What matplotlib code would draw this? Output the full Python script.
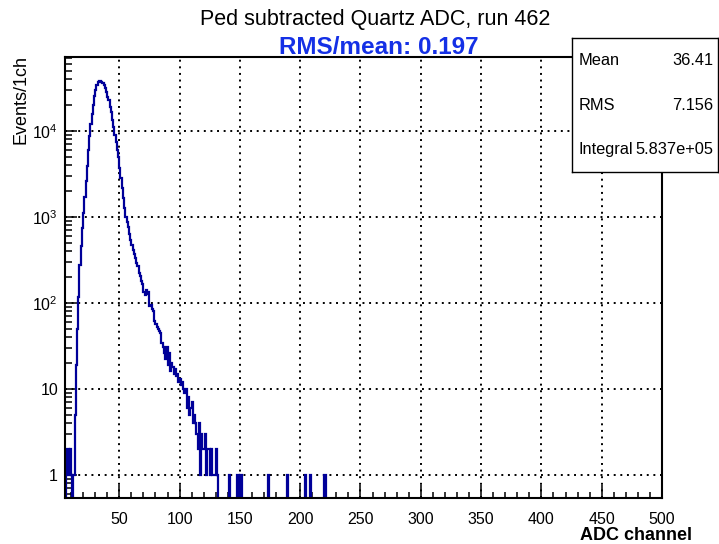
import numpy as np
import matplotlib
matplotlib.use("Agg")
import matplotlib.pyplot as plt
from matplotlib.ticker import FixedLocator, MultipleLocator, LogLocator, NullFormatter

plt.rcParams['font.family'] = ['Liberation Sans', 'DejaVu Sans']
plt.rcParams['mathtext.fontset'] = 'custom'
plt.rcParams['mathtext.rm'] = 'Liberation Sans'
plt.rcParams['mathtext.it'] = 'Liberation Sans:italic'
plt.rcParams['mathtext.bf'] = 'Liberation Sans:bold'

run_number = 462
x_range = (5, 500)
y_range = (0.54, 72000)

# counts in 1-channel bins, first entry is channel 6
first_channel = 6
bin_counts = [
    1, 2, 1, 2, 1, 0, 1, 5, 19, 50,                                  # 6-15
    118, 277, 452, 750, 1100, 1700, 2600, 3900, 6000, 8800,          # 16-25
    12000, 15500, 20000, 25500, 30000, 34000, 36500, 37600, 37900, 37300,  # 26-35
    35600, 33700, 31200, 28000, 25000, 22500, 19000, 16500, 13500, 11000,  # 36-45
    9000, 7500, 6000, 4900, 3700, 2800, 2150, 1650, 1250, 1000,      # 46-55
    880, 760, 640, 540, 470, 415, 370, 330, 290, 265,                # 56-65
    225, 205, 180, 165, 135, 122, 140, 128, 135, 92,                 # 66-75
    95, 85, 80, 62, 57, 52, 50, 47, 45, 34,                          # 76-85
    31, 26, 22, 31, 19, 26, 16, 20, 18, 15,                          # 86-95
    17, 14, 15, 12, 13, 11, 12, 10, 9, 10,                           # 96-105
    6, 8, 5, 6, 7, 4, 5, 4, 3, 2,                                    # 106-115
    4, 1, 3, 2, 2, 3, 1, 2, 2, 1,                                    # 116-125
    2, 1, 1, 1, 2, 1,                                                # 126-131
]
# isolated single-count channels further out
tail_channels = [141, 148, 150, 151, 173, 189, 204, 208, 220]

stat_names = ['Mean', 'RMS', 'Integral']
stat_values = [36.41, 7.156, 5.837e5]

edges = np.arange(x_range[0], x_range[1] + 1)
counts = np.zeros(len(edges) - 1)
start = first_channel - x_range[0]
counts[start:start + len(bin_counts)] = bin_counts
for ch in tail_channels:
    counts[ch - x_range[0]] += 1

W, H = 719, 544
fig = plt.figure(figsize=(W / 100, H / 100), dpi=100)
ax = fig.add_axes([65 / W, 1 - 498 / H, (662 - 65) / W, (498 - 57) / H])

ax.stairs(counts, edges, color='#000099', lw=1.6, baseline=0)

ax.set_yscale('log')
ax.set_xlim(*x_range)
ax.set_ylim(*y_range)

ax.xaxis.set_major_locator(MultipleLocator(50))
ax.xaxis.set_minor_locator(MultipleLocator(10))
ax.yaxis.set_major_locator(FixedLocator([1, 10, 100, 1000, 10000]))
ax.set_yticklabels(['1', '10', '$10^{2}$', '$10^{3}$', '$10^{4}$'])
ax.yaxis.set_minor_locator(LogLocator(base=10, subs=np.arange(2, 10)))
ax.yaxis.set_minor_formatter(NullFormatter())

ax.tick_params(axis='both', which='both', direction='in', width=1.1,
               top=False, right=False, labelsize=11.5)
ax.tick_params(axis='x', which='major', length=9.4, pad=10)
ax.tick_params(axis='x', which='minor', length=4.3)
ax.tick_params(axis='y', which='major', length=8.6, pad=5)
ax.tick_params(axis='y', which='minor', length=5)

ax.grid(True, which='major', color='black', lw=1.4, linestyle=(0, (1, 2.4)))
ax.set_axisbelow(True)
for sp in ax.spines.values():
    sp.set_linewidth(1.5)

fig.text(375 / W, 1 - 20 / H, f'Ped subtracted Quartz ADC, run {run_number}',
         ha='center', va='center', fontsize=15.5)
fig.text(692 / W, 1 - 535 / H, 'ADC channel', ha='right', va='center',
         fontsize=13, fontweight='bold')
fig.text(21 / W, 1 - 55 / H, 'Events/1ch', ha='center', va='top',
         rotation=90, fontsize=13)

mean, rms, integral = stat_values
fig.text(379 / W, 1 - 47 / H, f'RMS/mean: {rms / mean:.3f}', ha='center',
         va='center', fontsize=17.5, fontweight='bold', color='#1430e6')

# statistics box
box = fig.add_axes([572 / W, 1 - 172 / H, (718 - 572) / W, (172 - 38) / H])
box.set_xticks([])
box.set_yticks([])
box.set_xlim(0, 1)
box.set_ylim(0, 1)
for sp in box.spines.values():
    sp.set_linewidth(1.0)
value_text = [f'{mean:.2f}', f'{rms:.3f}', f'{integral:.3e}']
for i, (name, val) in enumerate(zip(stat_names, value_text)):
    yy = 1 - (i + 0.5) / 3
    box.text(7 / 146, yy, name, ha='left', va='center', fontsize=11.8)
    box.text(141 / 146, yy, val, ha='right', va='center', fontsize=11.8)

fig.savefig('out.png', dpi=100)
